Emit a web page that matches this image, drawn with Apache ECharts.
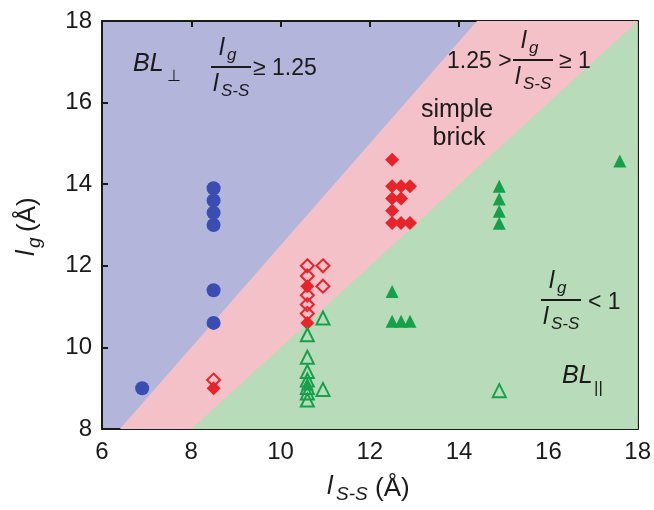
<!DOCTYPE html>
<html>
<head>
<meta charset="utf-8">
<script src="https://cdn.jsdelivr.net/npm/echarts@6/dist/echarts.min.js"></script>
<style>
  html, body { margin: 0; padding: 0; background: #fff; }
  #chart { width: 654px; height: 510px; }
</style>
</head>
<body>
<div id="chart"></div>
<script>
// axis ranges
const xRange = [6, 18];
const yRange = [8, 18];
const tickStep = 2;

// region boundaries: lg / lss ratios
const ratioUpper = 1.25;
const ratioLower = 1;

// BL-perp (filled blue circles)
const blueCircles = [[6.9, 9.0], [8.5, 10.6], [8.5, 11.4], [8.5, 13.0], [8.5, 13.3], [8.5, 13.6], [8.5, 13.9]];
// simple brick (red diamonds)
const redFilled = [[8.5, 9.0], [10.6, 10.6], [10.6, 11.5], [12.5, 13.05], [12.7, 13.05], [12.9, 13.05],
  [12.5, 13.35], [12.5, 13.65], [12.7, 13.65], [12.5, 13.95], [12.7, 13.95], [12.9, 13.95], [12.5, 14.6]];
const redOpen = [[8.5, 9.2], [10.6, 10.83], [10.6, 11.05], [10.6, 11.28], [10.6, 11.75], [10.6, 12.0],
  [10.95, 11.5], [10.95, 12.0]];
// BL-parallel (green triangles)
const greenFilled = [[10.6, 9.1], [12.5, 10.64], [12.7, 10.64], [12.9, 10.64], [12.5, 11.37],
  [14.9, 13.04], [14.9, 13.34], [14.9, 13.64], [14.9, 13.95], [17.6, 14.57]];
const greenOpen = [[10.6, 8.71], [10.6, 8.88], [10.6, 9.02], [10.6, 9.2], [10.6, 9.41], [10.6, 9.76],
  [10.6, 10.31], [10.95, 8.97], [10.95, 10.72], [14.9, 8.94]];

const FONT = '"Liberation Sans", Arial, sans-serif';
const INK = '#1a1a1a';

function txt(x, y, s, size, italic, align) {
  return {
    type: 'text', x: x, y: y, z: 100,
    style: {
      text: s, font: (italic ? 'italic ' : '') + size + 'px ' + FONT, fill: INK,
      align: align || 'left', verticalAlign: 'middle'
    }
  };
}

// italic l with subscript
function lsub(x, y, sub, big, small) {
  return [txt(x, y, 'l', big || 24, true), txt(x + 8, y + 7, sub, small || 17, true)];
}

// lg / lS-S fraction, centred at cx with bar at ly
function frac(cx, ly) {
  return [].concat(
    lsub(cx - 12, ly - 19, 'g'),
    [{ type: 'line', z: 100, shape: { x1: cx - 20, y1: ly, x2: cx + 20, y2: ly }, style: { stroke: INK, lineWidth: 2 } }],
    lsub(cx - 18, ly + 17, 'S-S')
  );
}

const graphics = [].concat(
  // top-left region
  [txt(133, 64, 'BL', 25, true), txt(167, 77, '⊥', 16, false)],
  frac(231, 67),
  [txt(253, 69, '≥ 1.25', 23, false)],
  // middle region
  [txt(447, 62, '1.25 >', 23, false)],
  frac(533, 60),
  [txt(559, 62, '≥ 1', 23, false)],
  [txt(457, 110, 'simple', 25, false, 'center'), txt(459, 138, 'brick', 25, false, 'center')],
  // lower-right region
  frac(561, 300),
  [txt(588, 303, '< 1', 23, false)],
  [txt(562, 376, 'BL', 25, true), txt(594, 388, '||', 17, false)],
  // x axis name
  [txt(327, 487, 'l', 26, true), txt(336, 495, 'S-S', 19, true), txt(375, 489, '(Å)', 26, false)],
  // y axis name, reads bottom to top
  [{
    type: 'group', x: 27, y: 225, rotation: Math.PI / 2, z: 100,
    children: [
      { type: 'text', x: -31, y: 0, style: { text: 'l', font: 'italic 26px ' + FONT, fill: INK, align: 'left', verticalAlign: 'middle' } },
      { type: 'text', x: -23, y: 8, style: { text: 'g', font: 'italic 19px ' + FONT, fill: INK, align: 'left', verticalAlign: 'middle' } },
      { type: 'text', x: -7, y: 1, style: { text: '(Å)', font: '26px ' + FONT, fill: INK, align: 'left', verticalAlign: 'middle' } }
    ]
  }]
);

const chart = echarts.init(document.getElementById('chart'));

const tickStyle = { show: true, inside: true, length: 6, lineStyle: { color: INK, width: 2 } };
const lineStyle = { show: true, onZero: false, lineStyle: { color: INK, width: 2 } };

function boundaryArea(points, color) {
  return {
    type: 'line', data: points, showSymbol: false, silent: true, z: 1,
    lineStyle: { width: 0 }, areaStyle: { color: color, opacity: 1 }
  };
}

function scatter(data, symbol, size, color, filled) {
  return {
    type: 'scatter', data: data, symbol: symbol, symbolSize: size, silent: true, z: 5,
    itemStyle: filled ? { color: color, opacity: 1 } : { color: 'rgba(0,0,0,0)', borderColor: color, borderWidth: 2, opacity: 1 }
  };
}

chart.setOption({
  animation: false,
  grid: { left: 102, right: 13, top: 21, bottom: 81, show: true, backgroundColor: '#b3b5db', borderWidth: 0 },
  xAxis: [
    { type: 'value', min: xRange[0], max: xRange[1], interval: tickStep, axisLine: lineStyle, axisTick: tickStyle,
      splitLine: { show: false }, axisLabel: { fontSize: 24, color: INK, fontFamily: FONT, margin: 11 } },
    { type: 'value', position: 'top', min: xRange[0], max: xRange[1], interval: tickStep, axisLine: lineStyle,
      axisTick: tickStyle, splitLine: { show: false }, axisLabel: { show: false } }
  ],
  yAxis: [
    { type: 'value', min: yRange[0], max: yRange[1], interval: tickStep, axisLine: lineStyle, axisTick: tickStyle,
      splitLine: { show: false }, axisLabel: { fontSize: 24, color: INK, fontFamily: FONT, margin: 10 } },
    { type: 'value', position: 'right', min: yRange[0], max: yRange[1], interval: tickStep, axisLine: lineStyle,
      axisTick: tickStyle, splitLine: { show: false }, axisLabel: { show: false } }
  ],
  series: [
    boundaryArea([[yRange[0] / ratioUpper, yRange[0]], [yRange[1] / ratioUpper, yRange[1]], [xRange[1], yRange[1]]], '#f5c1c8'),
    boundaryArea([[yRange[0] / ratioLower, yRange[0]], [yRange[1] / ratioLower, yRange[1]]], '#b8dcb9'),
    scatter(blueCircles, 'circle', 14, '#3a4db2', true),
    scatter(redOpen, 'diamond', 13, '#e8242b', false),
    scatter(redFilled, 'diamond', 14, '#e8242b', true),
    scatter(greenOpen, 'triangle', 13, '#17a04a', false),
    scatter(greenFilled, 'triangle', 13, '#17a04a', true)
  ],
  graphic: graphics
});
</script>
</body>
</html>
